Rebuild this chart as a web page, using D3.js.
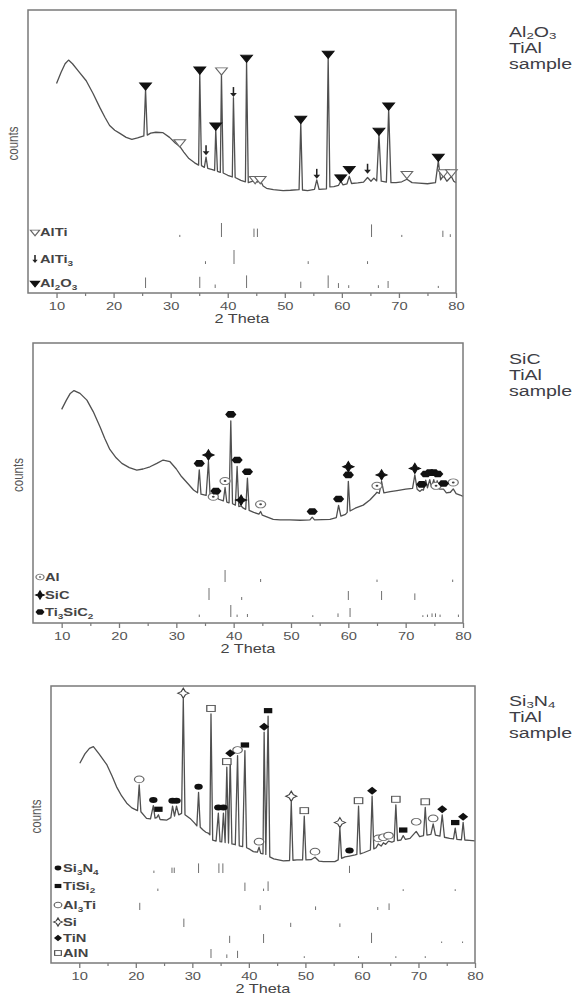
<!DOCTYPE html>
<html>
<head>
<meta charset="utf-8">
<title>XRD patterns of TiAl samples</title>
<script src="https://cdnjs.cloudflare.com/ajax/libs/d3/7.8.5/d3.min.js"></script>
<style>
    body { margin: 0; background: #fff; }
    text { font-family: Arial, 'Liberation Sans', sans-serif; }
</style>
</head>
<body>
<script>
"use strict";

// ---- shared axis values (2 Theta, degrees)
const thetaTicks = [10, 20, 30, 40, 50, 60, 70, 80];
const thetaMinor = [15, 25, 35, 45, 55, 65, 75];

// ---- Al2O3 TiAl sample : [2theta, counts (arb., 0-100)]
const aluminaPattern = [[10.0,74],[10.8,78],[11.5,81],[12.1,82.3],[12.8,81],[13.8,78.5],[15.2,75],[16.4,70.5],[17.6,65.5],[18.5,62],[19.3,59.2],[20.2,57.5],[21.1,56.4],[22.2,55],[23.2,54.3],[24.2,54.8],[25.3,55.5],[25.6,71.9],[25.9,55.8],[26.5,56.5],[27.4,56.8],[28.6,56.7],[29.8,55],[30.8,53],[31.6,51.8],[32.3,49.8],[33.2,47.5],[34.2,46],[34.9,45.2],[35.1,77.5],[35.4,45],[35.9,44.4],[36.2,48],[36.5,44],[37.3,43.6],[37.7,43.3],[37.9,57.7],[38.2,43],[38.7,42.6],[38.9,77.2],[39.2,42.4],[40,41.6],[40.8,41],[41.0,69],[41.3,40.8],[42.3,39.8],[43.1,39.3],[43.3,81.7],[43.6,39],[44.4,39.5],[44.8,40.2],[45.2,39.2],[45.7,39.8],[46.2,37.8],[46.8,37],[48,36.5],[49.7,36.2],[51,36.3],[52.5,36.5],[52.8,60],[53.1,36.4],[54,36.2],[55.2,36.6],[55.6,40],[56,36.6],[57.3,36.8],[57.6,83],[57.9,37.5],[58.6,37.6],[59.4,38],[59.8,39.5],[60.2,38.2],[60.9,38.6],[61.3,41.2],[61.7,38.7],[62.8,38.9],[63.8,39.2],[64.5,40.8],[65.1,39.5],[65.6,40.6],[66.1,39.6],[66.5,56],[66.9,39.5],[67.8,39.2],[68.2,64.8],[68.6,39],[69.5,39],[70.5,39.3],[71.4,40.2],[72.3,39],[73.5,38.8],[75,38.6],[76.4,39],[76.9,46.7],[77.3,40],[77.8,41.5],[78.4,39.5],[79.2,41.2],[79.6,39.5],[80,39]];
const aluminaTitle = ["Al_2O_3", "TiAl", "sample"];
const aluminaMarksAlTi = [[31.6,53.3],[38.9,78.7],[44.8,40.3],[45.7,40.3],[71.4,42.1],[77.8,42.7],[79.2,42.7]];
const aluminaMarksAlTi3 = [[36.2,50.4],[41.0,71.0],[55.6,42.1],[64.5,43.9]];
const aluminaMarksAl2O3 = [[25.6,73.4],[35.1,79.0],[37.9,59.2],[43.3,83.2],[52.8,61.6],[57.6,84.6],[59.8,40.9],[61.3,43.9],[66.5,57.4],[68.2,66.3],[76.9,48.2]];
// reference cards : [2theta, relative intensity]
const aluminaRefAlTi = [[31.6,15],[38.9,100],[44.6,60],[45.2,60],[65.2,90],[70.5,15],[77.7,45],[79.0,20]];
const aluminaRefAlTi3 = [[36.1,20],[41.1,100],[54.1,20],[64.5,20]];
const aluminaRefAl2O3 = [[25.6,75],[35.1,80],[37.8,25],[43.3,90],[52.8,45],[57.6,90],[59.4,35],[61.2,20],[66.4,20],[68.1,50],[76.9,15]];

// ---- SiC TiAl sample
const carbidePattern = [[10.0,76.3],[10.8,79.5],[11.5,82],[12.15,83],[13.2,82],[14.4,79.6],[15.5,75.5],[16.7,70],[17.5,66],[18.4,62],[19.5,59],[20.5,57],[21.8,55.5],[23.1,54.6],[24.2,55],[25.4,55.8],[26.6,57],[27.7,58.2],[28.9,57.6],[30,55],[30.9,52.3],[32,49.8],[33.0,47.5],[33.7,46.5],[34.0,54.7],[34.3,46],[35.2,45.6],[35.6,57.7],[35.9,45.2],[36.4,44.6],[36.9,45.2],[37.4,44.2],[38.2,43.6],[38.5,48.4],[38.8,43.2],[39.2,42.9],[39.5,72.2],[39.8,42.6],[40.3,42.1],[40.6,55.9],[40.9,41.6],[41.3,41.8],[41.7,41],[42.1,40.6],[42.4,51.7],[42.7,40.2],[43.5,39.5],[44.4,38.9],[44.7,39.8],[45.0,38.5],[46.9,37],[48.1,36.8],[49.8,36.8],[51.6,36.7],[53.3,36.8],[53.7,37.8],[54.1,36.8],[56.8,37],[57.9,37.6],[58.3,42],[58.7,38.2],[59.5,38.8],[59.8,39.5],[60.0,50.6],[60.3,40],[61.2,41],[62.6,42.1],[63.8,44],[64.7,46],[65.0,46.7],[65.4,46.3],[65.8,50.6],[66.2,46.5],[67.3,46.9],[68.5,47.3],[70,47.8],[71.2,48.1],[71.6,52.9],[72,47.8],[72.5,47],[72.8,47.6],[73.1,47.5],[73.5,51],[73.8,48.3],[74.2,51.2],[74.5,48.5],[74.9,51.2],[75.2,48.3],[75.5,50.8],[75.9,47.8],[76.6,47.8],[77.1,46.5],[77.8,46.7],[78.3,47.9],[78.8,46.2],[79.5,45.7],[80,45.2]];
const carbideTitle = ["SiC", "TiAl", "sample"];
const carbideMarksAl = [[36.45,45.1],[38.5,50.7],[44.7,42.4],[65.0,49.0],[75.3,49.0],[78.3,50.2]];
const carbideMarksSiC = [[35.6,60.0],[41.3,43.9],[60.0,55.8],[65.8,52.9],[71.6,55.2]];
const carbideMarksTi3SiC2 = [[34.0,57.0],[36.9,47.1],[39.5,74.5],[40.6,58.2],[42.4,54.0],[53.7,39.8],[58.3,44.3],[60.0,52.9],[72.8,49.5],[73.5,53.2],[74.2,53.7],[74.9,53.7],[75.6,53.2],[76.6,49.8]];
const carbideRefAl = [[38.5,100],[44.7,25],[65.0,20],[78.2,20]];
const carbideRefSiC = [[35.7,100],[41.4,25],[60.0,75],[65.8,75],[71.6,55]];
const carbideRefTi3SiC2 = [[34.0,20],[39.5,100],[40.6,20],[42.4,25],[53.8,15],[58.2,30],[60.3,75],[73.0,15],[73.8,20],[74.6,30],[75.2,30],[76.0,20],[79.2,20]];

// ---- Si3N4 TiAl sample
const nitridePattern = [[10.1,72.1],[11,75.5],[11.8,77.5],[12.5,78.1],[13.5,75.5],[14.9,71.5],[15.8,67.5],[16.6,63.6],[17.5,60.3],[18.4,57.7],[19.3,56],[20.3,55],[20.6,64.3],[20.9,54.6],[21.9,52.2],[22.6,52],[23.1,56.8],[23.4,52.3],[23.7,52.5],[24.0,53.5],[24.3,51.8],[25.5,51.6],[26.2,52.5],[26.5,56.6],[26.85,53],[27.2,56.6],[27.6,53.5],[28.1,54],[28.4,95.4],[28.7,53.5],[29.6,52.2],[30.4,50.5],[30.8,49.5],[31.1,61.6],[31.4,49],[31.9,48],[32.4,47.2],[32.8,46.9],[33.1,46.3],[33.3,89.9],[33.6,44.4],[34.2,44],[34.6,54.1],[34.9,43.8],[35.2,43.7],[35.5,54.1],[35.8,43.5],[36.1,70.7],[36.4,43.3],[36.7,73.7],[37.0,43],[37.6,42.7],[38.0,74.9],[38.3,42.3],[38.9,42],[39.3,76.7],[39.6,41.6],[40.2,41],[40.8,40.2],[41.5,40],[41.8,41.8],[42.1,39.6],[42.5,39.4],[42.7,83.3],[43.0,39.2],[43.4,89.1],[43.7,38.3],[44.4,37.6],[46.1,36.9],[47.2,37],[47.5,58.2],[47.8,37.1],[48.5,37.2],[49.5,37.2],[49.8,53],[50.1,37.2],[51.0,37.3],[51.7,38.2],[52.4,36.8],[53.2,36.6],[55.2,36.6],[55.8,37.2],[56.1,48.7],[56.4,37.8],[57.0,38.3],[57.8,38.6],[58.8,39],[59.1,39.2],[59.4,56.6],[59.7,39.4],[60.3,39.8],[61.5,40.8],[61.8,60.2],[62.1,41.2],[62.5,41.6],[62.9,43],[63.4,42.2],[63.8,43.4],[64.2,42.8],[64.7,44],[65.3,43.6],[65.7,44],[66.0,57.1],[66.3,44.2],[66.9,44.4],[67.3,46],[67.7,44.6],[68.5,45],[69.6,47.5],[70.2,45.6],[70.9,46],[71.2,56.2],[71.5,46.2],[72.2,46.4],[72.6,50.2],[73.0,46.2],[73.8,45.8],[74.2,53.5],[74.6,45.4],[75.5,45],[76.2,44.8],[76.5,48.7],[76.8,44.6],[77.6,44.5],[77.9,50.8],[78.2,44.4],[79,44.3],[80,44.1]];
const nitrideTitle = ["Si_3N_4", "TiAl", "sample"];
const nitrideMarksSi3N4 = [[23.1,58.8],[26.5,58.6],[27.2,58.6],[31.1,63.6],[34.6,56.1],[35.5,56.1],[57.8,40.6]];
const nitrideMarksTiSi2 = [[24.0,55.5],[39.3,78.7],[43.4,91.1],[67.3,48.0],[76.5,50.7]];
const nitrideMarksAl3Ti = [[20.6,66.3],[38.0,76.9],[41.8,43.8],[51.7,40.2],[62.9,45.0],[63.8,45.4],[64.7,46.0],[69.6,51.0],[72.6,52.2]];
const nitrideMarksSi = [[28.4,97.4],[47.5,60.2],[56.1,50.7]];
const nitrideMarksTiN = [[36.7,75.7],[42.7,85.3],[61.8,62.2],[74.2,55.5],[77.9,52.8]];
const nitrideMarksAlN = [[33.3,91.9],[36.1,72.7],[49.8,55.0],[59.4,58.6],[66.0,59.1],[71.2,58.2]];
const nitrideRefSi3N4 = [[23.2,20],[26.4,45],[26.8,45],[31.1,80],[34.7,80],[35.4,80],[57.8,60]];
const nitrideRefTiSi2 = [[23.9,20],[39.3,70],[42.6,20],[43.4,80],[67.3,15],[76.5,15]];
const nitrideRefAl3Ti = [[20.7,60],[42.0,40],[51.8,30],[62.8,25],[64.8,55]];
const nitrideRefSi = [[28.5,70],[47.4,35],[56.1,30]];
const nitrideRefTiN = [[36.6,60],[42.6,75],[61.7,85],[74.1,10],[77.8,10]];
const nitrideRefAlN = [[33.3,75],[36.1,30],[38.0,60],[49.8,15],[59.4,15],[66.0,15],[71.2,15]];

// ---- layout
const STRETCH = 1.4;           // the figure is drawn wider than tall
const frameColor = "#7a7a7a";
const lineColor = "#505050";

const panels = [
    { left: 28, right: 456, top: 10, bottom: 293, stickMax: 14, rowY: [232, 259, 283],
      pattern: aluminaPattern, title: aluminaTitle, titleY: 37,
      phases: [
        { label: "AlTi", symbol: "triOpen", marks: aluminaMarksAlTi, refs: aluminaRefAlTi },
        { label: "AlTi_3", symbol: "arrow", marks: aluminaMarksAlTi3, refs: aluminaRefAlTi3 },
        { label: "Al_2O_3", symbol: "triFilled", marks: aluminaMarksAl2O3, refs: aluminaRefAl2O3 }
      ] },
    { left: 33, right: 463, top: 343, bottom: 623, stickMax: 12, rowY: [577, 595, 612],
      pattern: carbidePattern, title: carbideTitle, titleY: 364,
      phases: [
        { label: "Al", symbol: "circleDot", marks: carbideMarksAl, refs: carbideRefAl },
        { label: "SiC", symbol: "starFilled", marks: carbideMarksSiC, refs: carbideRefSiC },
        { label: "Ti_3SiC_2", symbol: "hexFilled", marks: carbideMarksTi3SiC2, refs: carbideRefTi3SiC2 }
      ] },
    { left: 51, right: 475, top: 686, bottom: 963, stickMax: 12, rowY: [868, 886, 905, 922, 938, 953],
      pattern: nitridePattern, title: nitrideTitle, titleY: 706,
      phases: [
        { label: "Si_3N_4", symbol: "dotFilled", marks: nitrideMarksSi3N4, refs: nitrideRefSi3N4 },
        { label: "TiSi_2", symbol: "squareFilled", marks: nitrideMarksTiSi2, refs: nitrideRefTiSi2 },
        { label: "Al_3Ti", symbol: "circleOpen", marks: nitrideMarksAl3Ti, refs: nitrideRefAl3Ti },
        { label: "Si", symbol: "starOpen", marks: nitrideMarksSi, refs: nitrideRefSi },
        { label: "TiN", symbol: "diamondFilled", marks: nitrideMarksTiN, refs: nitrideRefTiN },
        { label: "AlN", symbol: "squareOpen", marks: nitrideMarksAlN, refs: nitrideRefAlN }
      ] }
];

const svg = d3.select("body").append("svg")
    .attr("width", 587)
    .attr("height", 996);

// text with "_n" subscripts
function richText(sel, label, size, drop) {
    const shift = size * (drop || 0.28);
    let low = false;
    label.split(/(_\d)/).filter(s => s).forEach(part => {
        const sub = part[0] === "_";
        const t = sel.append("tspan").text(sub ? part.slice(1) : part);
        if (sub) {
            t.attr("font-size", size * 0.68).attr("dy", low ? 0 : shift);
            low = true;
        } else {
            t.attr("dy", low ? -shift : 0);
            low = false;
        }
    });
}

// draw one phase symbol at (0,0)
function drawSymbol(g, type, k) {
    const s = k || 1;
    if (type === "triFilled" || type === "triOpen") {
        g.append("path")
            .attr("d", d3.symbol(d3.symbolTriangle, 30 * s * s)())
            .attr("transform", "rotate(180)")
            .attr("fill", type === "triFilled" ? "#111" : "#fff")
            .attr("stroke", type === "triFilled" ? "#111" : "#666")
            .attr("stroke-width", 0.9);
    } else if (type === "arrow") {
        g.append("line").attr("y1", -5 * s).attr("y2", 2 * s)
            .attr("stroke", "#222").attr("stroke-width", 1.1);
        g.append("path").attr("d", `M${-2.4 * s},${1 * s}L${2.4 * s},${1 * s}L0,${5 * s}Z`).attr("fill", "#222");
    } else if (type === "circleDot") {
        g.append("circle").attr("r", 3.6 * s).attr("fill", "#fff").attr("stroke", "#777").attr("stroke-width", 0.9);
        g.append("circle").attr("r", 1 * s).attr("fill", "#444");
    } else if (type === "starFilled" || type === "starOpen") {
        const a = 5 * s, b = 1.5 * s, c = 4 * s;
        g.append("path")
            .attr("d", `M0,${-a}L${b},${-b}L${c},0L${b},${b}L0,${a}L${-b},${b}L${-c},0L${-b},${-b}Z`)
            .attr("fill", type === "starFilled" ? "#111" : "#fff")
            .attr("stroke", type === "starFilled" ? "#111" : "#444")
            .attr("stroke-width", 0.9);
    } else if (type === "hexFilled") {
        const pts = d3.range(6).map(i => {
            const ang = Math.PI / 3 * i;
            return [4 * s * Math.cos(ang), 3.8 * s * Math.sin(ang)];
        });
        g.append("path").attr("d", "M" + pts.join("L") + "Z").attr("fill", "#111");
    } else if (type === "dotFilled") {
        g.append("circle").attr("r", 3 * s).attr("fill", "#111");
    } else if (type === "squareFilled") {
        g.append("rect").attr("x", -3 * s).attr("y", -2.6 * s)
            .attr("width", 6 * s).attr("height", 5.2 * s).attr("fill", "#111");
    } else if (type === "circleOpen") {
        g.append("circle").attr("r", 3.4 * s).attr("fill", "#fff").attr("stroke", "#666").attr("stroke-width", 0.9);
    } else if (type === "diamondFilled") {
        g.append("path").attr("d", `M0,${-4 * s}L${3.6 * s},0L0,${4 * s}L${-3.6 * s},0Z`).attr("fill", "#111");
    } else if (type === "squareOpen") {
        g.append("rect").attr("x", -3 * s).attr("y", -3 * s)
            .attr("width", 6 * s).attr("height", 6 * s)
            .attr("fill", "#fff").attr("stroke", "#555").attr("stroke-width", 0.9);
    }
}

panels.forEach(p => {
    const x = d3.scaleLinear().domain([5, 80]).range([p.left, p.right]);
    const y = d3.scaleLinear().domain([0, 100]).range([p.bottom, p.top]);
    const stick = d3.scaleLinear().domain([0, 100]).range([0, p.stickMax]);
    const g = svg.append("g");

    // reference sticks + legend rows
    p.phases.forEach((ph, i) => {
        const base = p.rowY[i] + 5;
        g.append("g").selectAll("line")
            .data(ph.refs)
            .join("line")
            .attr("x1", d => x(d[0])).attr("x2", d => x(d[0]))
            .attr("y1", base).attr("y2", d => base - Math.max(1.5, stick(d[1])))
            .attr("stroke", "#707070")
            .attr("stroke-width", 1);

        const sym = g.append("g")
            .attr("transform", `translate(${p.left + 7},${p.rowY[i]}) scale(${STRETCH},1)`);
        drawSymbol(sym, ph.symbol, 0.8);

        const t = g.append("text")
            .attr("transform", `translate(${p.left + 12},${p.rowY[i] + 4}) scale(${STRETCH},1)`)
            .attr("font-size", 10.5)
            .attr("font-weight", "bold")
            .attr("fill", "#444");
        richText(t, ph.label, 10.5);
    });

    // diffraction pattern
    g.append("path")
        .datum(p.pattern)
        .attr("fill", "none")
        .attr("stroke", lineColor)
        .attr("stroke-width", 1.3)
        .attr("stroke-linejoin", "round")
        .attr("d", d3.line().x(d => x(d[0])).y(d => y(d[1])));

    // phase markers on the peaks
    p.phases.forEach(ph => {
        ph.marks.forEach(d => {
            const m = g.append("g")
                .attr("transform", `translate(${x(d[0])},${y(d[1])}) scale(${STRETCH},1)`);
            drawSymbol(m, ph.symbol, 1);
        });
    });

    // frame
    g.append("rect")
        .attr("x", p.left).attr("y", p.top)
        .attr("width", p.right - p.left).attr("height", p.bottom - p.top)
        .attr("fill", "none")
        .attr("stroke", frameColor)
        .attr("stroke-width", 1.5);

    // x axis
    g.append("g")
        .attr("transform", `translate(0,${p.bottom})`)
        .call(d3.axisBottom(x).tickValues(thetaTicks).tickSize(5).tickPadding(5))
        .call(a => a.select(".domain").remove())
        .call(a => a.selectAll("line").attr("stroke", frameColor).attr("stroke-width", 1.3))
        .call(a => a.selectAll("text")
            .attr("font-size", 10.5)
            .attr("font-family", "Arial, 'Liberation Sans', sans-serif")
            .attr("fill", "#555")
            .attr("transform", `scale(${STRETCH},1)`));
    g.append("g")
        .attr("transform", `translate(0,${p.bottom})`)
        .call(d3.axisBottom(x).tickValues(thetaMinor).tickSize(3).tickFormat(""))
        .call(a => a.select(".domain").remove())
        .call(a => a.selectAll("line").attr("stroke", frameColor).attr("stroke-width", 1.2));

    g.append("text")
        .attr("transform", `translate(${(p.left + p.right) / 2},${p.bottom + 30}) scale(1.3,1)`)
        .attr("text-anchor", "middle")
        .attr("font-size", 12.5)
        .attr("fill", "#444")
        .text("2 Theta");

    g.append("text")
        .attr("transform", `translate(${p.left - 10},${(p.top + p.bottom) / 2 - 8}) rotate(-90) scale(1,1.3)`)
        .attr("text-anchor", "middle")
        .attr("font-size", 11.5)
        .attr("fill", "#555")
        .text("counts");

    // sample name on the right
    p.title.forEach((line, i) => {
        const t = g.append("text")
            .attr("transform", `translate(509,${p.titleY + i * 16}) scale(1.35,1)`)
            .attr("font-size", 14.5)
            .attr("fill", "#3d3d45");
        richText(t, line, 14.5, 0.12);
    });
});
</script>
</body>
</html>
